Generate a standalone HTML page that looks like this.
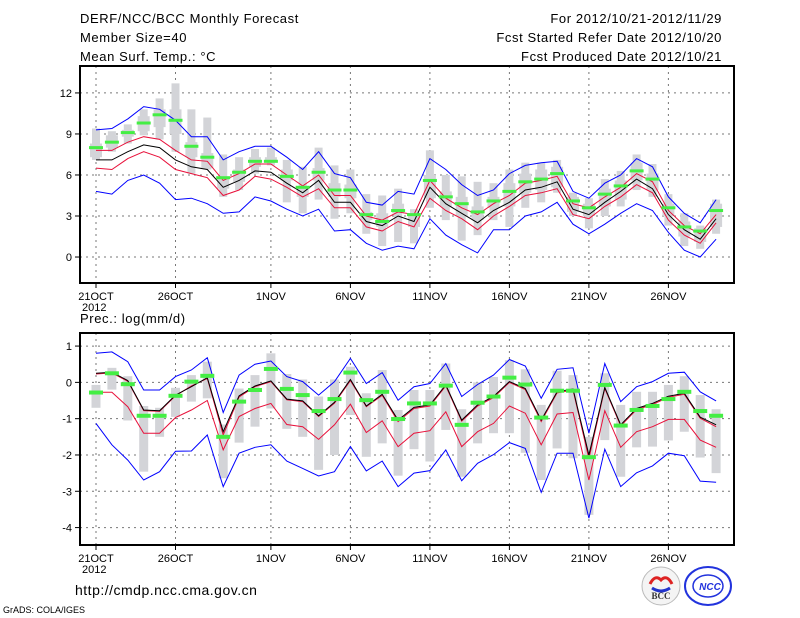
<!DOCTYPE html>
<html><head><meta charset="utf-8"><style>
html,body{margin:0;padding:0;background:#fff;}
svg{display:block;font-family:"Liberation Sans",sans-serif;}
.hdr{font-size:13px;letter-spacing:0.6px;}
</style></head><body>
<svg id="chart" width="800" height="618" viewBox="0 0 800 618" xmlns="http://www.w3.org/2000/svg">
<rect x="0" y="0" width="800" height="618" fill="#fff"/>
<text class="hdr" x="80" y="23">DERF/NCC/BCC Monthly Forecast</text>
<text class="hdr" x="80" y="42">Member Size=40</text>
<text class="hdr" x="80" y="61">Mean Surf. Temp.: °C</text>
<text class="hdr" x="722" y="23" text-anchor="end">For 2012/10/21-2012/11/29</text>
<text class="hdr" x="722" y="42" text-anchor="end">Fcst Started Refer Date 2012/10/20</text>
<text class="hdr" x="722" y="61" text-anchor="end">Fcst Produced Date 2012/10/21</text>
<text class="hdr" x="80" y="323">Prec.: log(mm/d)</text>
<text x="75" y="595" font-size="14" letter-spacing="0.5">http://cmdp.ncc.cma.gov.cn</text>
<text x="3" y="613" font-size="9">GrADS: COLA/IGES</text>
<g>
<circle cx="661" cy="586" r="19" fill="#f4f4f4" stroke="#bbb"/>
<path d="M650 584 q5 -10 11 -4 q6 -6 11 4" fill="none" stroke="#d22" stroke-width="3"/>
<path d="M652 588 q9 6 18 0" fill="none" stroke="#23c" stroke-width="3"/>
<text x="661" y="599" font-size="9" font-weight="bold" text-anchor="middle" fill="#333" font-family="Liberation Serif,serif">BCC</text>
</g>
<g>
<ellipse cx="708" cy="586" rx="23" ry="19" fill="#fff" stroke="#23d" stroke-width="2"/>
<ellipse cx="708" cy="586" rx="15" ry="11" fill="none" stroke="#23d" stroke-width="1.5"/>
<text x="710" y="590" font-size="10" font-weight="bold" font-style="italic" text-anchor="middle" fill="#23d">NCC</text>
</g>
<g id="top"></g>
<g id="bot"></g>
</svg>
<script>
const days = ["21OCT","22OCT","23OCT","24OCT","25OCT","26OCT","27OCT","28OCT","29OCT","30OCT","31OCT","1NOV","2NOV","3NOV","4NOV","5NOV","6NOV","7NOV","8NOV","9NOV","10NOV","11NOV","12NOV","13NOV","14NOV","15NOV","16NOV","17NOV","18NOV","19NOV","20NOV","21NOV","22NOV","23NOV","24NOV","25NOV","26NOV","27NOV","28NOV","29NOV"];
const xTickLabels = ["21OCT","26OCT","1NOV","6NOV","11NOV","16NOV","21NOV","26NOV"];
const xTickIdx = [0,5,11,16,21,26,31,36];
const tTicks = [0,3,6,9,12];
const tMean = [7.1,7.1,7.7,8.2,8.0,7.1,6.6,6.4,5.1,5.6,6.3,6.2,5.4,4.7,5.6,4.0,4.0,2.6,2.3,3.0,2.6,5.1,3.9,3.2,2.5,3.4,4.0,4.9,5.1,5.5,3.5,3.1,4.0,4.8,5.7,5.0,3.1,2.0,1.3,2.8];
const tRedHi = [7.8,7.8,8.4,8.8,8.6,7.8,7.1,7.0,5.6,6.1,6.8,6.8,6.0,5.2,6.0,4.5,4.5,3.0,2.7,3.3,3.1,5.6,4.3,3.6,3.1,3.9,4.5,5.4,5.6,5.9,3.9,3.6,4.4,5.1,6.1,5.5,3.4,2.3,1.7,3.1];
const tRedLo = [6.5,6.4,7.2,7.7,7.3,6.4,6.1,5.8,4.5,4.9,5.9,5.7,5.1,4.4,5.0,3.6,3.6,2.2,1.9,2.6,2.2,4.3,3.4,2.8,2.0,3.0,3.7,4.5,4.7,5.0,3.1,2.8,3.7,4.4,5.3,4.7,2.7,1.6,1.0,2.5];
const tBlueHi = [9.3,9.4,10.1,11.0,10.8,10.0,8.8,8.8,7.1,7.7,8.1,8.1,7.3,6.4,7.7,6.1,5.8,4.0,3.8,4.8,4.6,7.2,6.4,5.3,4.5,4.9,6.1,6.7,6.9,7.0,4.8,4.3,5.4,6.0,7.2,6.6,4.4,3.2,2.5,4.2];
const tBlueLo = [4.8,4.6,5.6,6.0,5.4,4.2,4.3,3.9,3.2,3.3,4.4,4.1,3.5,3.0,3.5,1.9,2.0,1.0,0.5,0.8,0.6,2.8,1.6,0.9,0.3,2.0,2.0,3.0,3.3,4.0,2.4,1.7,2.4,3.2,3.9,3.4,1.8,0.5,0.0,1.3];
const tObs = [8.0,8.4,9.1,9.8,10.4,10.0,8.1,7.3,5.8,6.2,7.0,7.0,5.9,5.1,6.2,4.9,4.9,3.1,2.6,3.4,3.1,5.6,4.4,3.9,3.3,4.1,4.8,5.5,5.7,6.1,4.1,3.6,4.6,5.2,6.3,5.7,3.6,2.2,1.9,3.4];
const tMax = [9.4,9.2,9.7,10.8,11.6,12.7,10.8,10.2,7.5,7.3,7.9,8.0,7.1,6.6,8.0,6.7,6.4,4.6,4.5,5.0,3.5,7.8,6.0,5.9,5.5,5.4,6.4,6.9,6.9,7.1,4.7,4.3,5.7,6.3,7.5,6.8,4.6,3.2,2.3,4.2];
const tMin = [7.1,7.7,8.3,8.9,8.6,7.7,6.1,6.4,4.4,4.9,6.1,6.7,4.0,3.2,4.2,2.8,3.2,1.7,0.8,1.1,1.0,3.6,2.7,1.2,1.6,2.7,2.2,3.6,4.0,4.7,3.0,2.1,3.0,3.7,4.9,4.4,2.3,0.8,0.6,1.7];
const tQHi = [8.3,8.9,9.3,10.3,10.8,10.8,8.4,7.6,5.9,6.4,7.3,7.3,6.4,5.1,6.5,5.4,5.3,3.3,3.2,3.9,3.2,6.0,4.8,4.4,3.7,4.4,5.4,6.1,6.4,6.6,4.4,3.9,5.0,5.6,6.9,6.1,3.9,2.6,2.1,3.9];
const tQLo = [7.3,8.0,8.8,9.2,9.5,9.0,7.3,6.5,5.0,5.5,6.6,6.9,5.6,4.4,5.6,4.4,4.3,2.7,2.2,3.2,2.2,4.3,3.7,3.0,2.7,3.6,3.7,4.7,4.9,5.1,3.3,3.0,3.7,4.2,5.6,4.9,3.0,1.5,1.1,2.2];
const pTicks = [1,0,-1,-2,-3,-4];
const pMean = [0.25,0.28,0.05,-0.76,-0.78,-0.35,-0.12,0.13,-1.36,-0.37,-0.10,0.04,-0.46,-0.51,-0.92,-0.55,0.08,-0.65,-0.33,-1.04,-0.69,-0.62,-0.07,-1.04,-0.62,-0.39,0.02,-0.17,-1.04,-0.26,-0.18,-2.00,-0.14,-1.17,-0.72,-0.58,-0.38,-0.30,-0.96,-1.17];
const pRedHi = [0.23,0.26,0.03,-0.78,-0.80,-0.37,-0.10,0.11,-1.45,-0.40,-0.12,0.02,-0.48,-0.53,-0.94,-0.57,0.05,-0.67,-0.36,-1.08,-0.72,-0.65,-0.10,-1.07,-0.65,-0.42,0.00,-0.20,-1.08,-0.29,-0.21,-2.10,-0.17,-1.20,-0.75,-0.61,-0.41,-0.33,-0.99,-1.22];
const pRedLo = [-0.27,-0.27,-0.67,-1.40,-1.40,-0.97,-0.76,-0.50,-1.86,-0.94,-0.72,-0.58,-1.16,-1.22,-1.57,-1.17,-0.60,-1.38,-1.06,-1.77,-1.40,-1.33,-0.81,-1.77,-1.36,-1.13,-0.65,-0.85,-1.72,-0.87,-0.83,-2.69,-0.78,-1.79,-1.36,-1.22,-1.02,-1.02,-1.59,-1.79];
const pBlueHi = [0.80,0.84,0.57,-0.21,-0.21,0.16,0.34,0.68,-0.83,0.20,0.50,0.59,0.16,0.02,-0.35,0.02,0.66,-0.03,0.27,-0.49,-0.12,-0.03,0.52,-0.39,-0.06,0.20,0.63,0.45,-0.44,0.36,0.40,-1.40,0.52,-0.53,-0.12,0.02,0.25,0.28,-0.26,-0.51];
const pBlueLo = [-1.13,-1.72,-2.14,-2.69,-2.46,-1.90,-1.89,-1.45,-2.87,-1.95,-1.79,-1.72,-2.17,-2.37,-2.58,-2.46,-1.77,-2.44,-2.17,-2.87,-2.50,-2.43,-1.86,-2.71,-2.23,-1.99,-1.66,-1.82,-3.03,-1.95,-1.95,-3.74,-1.84,-2.87,-2.49,-2.30,-1.95,-2.02,-2.72,-2.75];
const pObs = [-0.28,0.25,-0.05,-0.92,-0.92,-0.37,0.02,0.18,-1.50,-0.53,-0.21,0.37,-0.18,-0.35,-0.79,-0.46,0.27,-0.49,-0.26,-1.01,-0.58,-0.58,-0.09,-1.17,-0.56,-0.39,0.13,-0.06,-0.97,-0.23,-0.23,-2.06,-0.07,-1.19,-0.76,-0.65,-0.46,-0.26,-0.79,-0.92];
const pMax = [-0.07,0.40,0.17,-0.65,-0.70,-0.15,0.20,0.57,-1.16,-0.17,0.20,0.80,0.23,0.08,-0.39,0.08,0.43,-0.30,0.34,-0.76,-0.21,-0.21,0.52,-0.74,0.00,0.15,0.61,0.36,-0.62,0.32,0.20,-1.50,0.25,-0.62,-0.26,-0.26,-0.07,0.17,-0.35,-0.74];
const pMin = [-0.70,-0.20,-1.05,-2.46,-1.50,-0.95,-0.53,-0.44,-2.64,-1.66,-1.22,-0.72,-1.28,-1.50,-2.41,-2.00,-0.90,-2.05,-1.68,-2.57,-1.84,-2.18,-1.31,-2.60,-1.68,-1.40,-1.40,-1.94,-2.69,-1.82,-2.09,-3.65,-1.59,-2.60,-1.79,-1.77,-1.60,-1.36,-2.07,-2.50];

const X0=96, DX=15.9;
const xs = i => X0 + DX*i;
const T = {top:66,bot:283,vmax:13.97,vmin:-1.9};
const P = {top:333,bot:545,vmax:1.36,vmin:-4.48};
const yT = v => T.top + (T.vmax - v)/(T.vmax - T.vmin)*(T.bot - T.top);
const yP = v => P.top + (P.vmax - v)/(P.vmax - P.vmin)*(P.bot - P.top);
const NS="http://www.w3.org/2000/svg";
function mk(parent, tag, attrs){const e=document.createElementNS(NS,tag);for(const k in attrs)e.setAttribute(k,attrs[k]);parent.appendChild(e);return e;}
function poly(g, arr, yf, color, w){
  return mk(g,'polyline',{points:arr.map((v,i)=>xs(i).toFixed(1)+','+yf(v).toFixed(1)).join(' '),fill:'none',stroke:color,'stroke-width':w});
}
function panel(g, box, yf, ticks, name){
  xTickIdx.forEach(i=>{const l=mk(g,'line',{x1:xs(i),x2:xs(i),y1:box.top,y2:box.bot,stroke:'#777','stroke-dasharray':'2,4','stroke-width':1});
    
    });
  ticks.forEach(v=>{const l=mk(g,'line',{x1:80,x2:734,y1:yf(v),y2:yf(v),stroke:'#777','stroke-dasharray':'2,4','stroke-width':1});
    
    });
}
function axes(g, box, yf, ticks, name){
  const r=mk(g,'rect',{x:80,y:box.top,width:654,height:box.bot-box.top,fill:'none',stroke:'#000','stroke-width':2});
  
  
  ticks.forEach(v=>{
    mk(g,'line',{x1:75,x2:80,y1:yf(v),y2:yf(v),stroke:'#000'});
    const t=mk(g,'text',{x:72,y:yf(v)+4,'font-size':11,'text-anchor':'end'});
    t.textContent=String(v);
    
    
  });
  xTickIdx.forEach((i,k)=>{
    mk(g,'line',{x1:xs(i),x2:xs(i),y1:box.bot,y2:box.bot+5,stroke:'#000'});
    const t=mk(g,'text',{x:xs(i),y:box.bot+17,'font-size':11,'text-anchor':'middle'});
    t.textContent=xTickLabels[k];
    
    
  });
  const yr=mk(g,'text',{x:82,y:box.bot+28,'font-size':11});
  yr.textContent='2012';
  
  
}
const gT=document.getElementById('top');


panel(gT,T,yT,tTicks,'temp');
days.forEach((d,i)=>{
  const a=mk(gT,'rect',{x:xs(i)-4,y:yT(tMax[i]),width:8,height:yT(tMin[i])-yT(tMax[i]),fill:'#d3d4d8'});
  
  
  const b=mk(gT,'rect',{x:xs(i)-6,y:yT(tQHi[i]),width:12,height:yT(tQLo[i])-yT(tQHi[i]),fill:'#d3d4d8'});
  
  
});
[[tBlueHi,'#00f','temp-upper-bound'],[tBlueLo,'#00f','temp-lower-bound'],[tRedHi,'#e8103a','temp-upper-spread'],[tRedLo,'#e8103a','temp-lower-spread'],[tMean,'#000','temp-ensemble-mean']].forEach(s=>{
  const e=poly(gT,s[0],yT,s[1],1);
  
  
});
tObs.forEach((v,i)=>{
  const e=mk(gT,'rect',{x:xs(i)-7,y:yT(v)-1.5,width:14,height:3,fill:'#44ee44'});
  
  
});
axes(gT,T,yT,tTicks,'temp');
const gB=document.getElementById('bot');


panel(gB,P,yP,pTicks,'prec');
days.forEach((d,i)=>{
  const a=mk(gB,'rect',{x:xs(i)-4.5,y:yP(pMax[i]),width:9,height:yP(pMin[i])-yP(pMax[i]),fill:'#d3d4d8'});
  
  
});
[[pBlueHi,'#00f','prec-upper-bound'],[pBlueLo,'#00f','prec-lower-bound'],[pRedHi,'#e8103a','prec-upper-spread'],[pRedLo,'#e8103a','prec-lower-spread'],[pMean,'#000','prec-ensemble-mean']].forEach(s=>{
  const e=poly(gB,s[0],yP,s[1],1);
  
  
});
pObs.forEach((v,i)=>{
  const e=mk(gB,'rect',{x:xs(i)-7,y:yP(v)-2,width:14,height:4,fill:'#44ee44'});
  
  
});
axes(gB,P,yP,pTicks,'prec');
</script>
</body></html>
